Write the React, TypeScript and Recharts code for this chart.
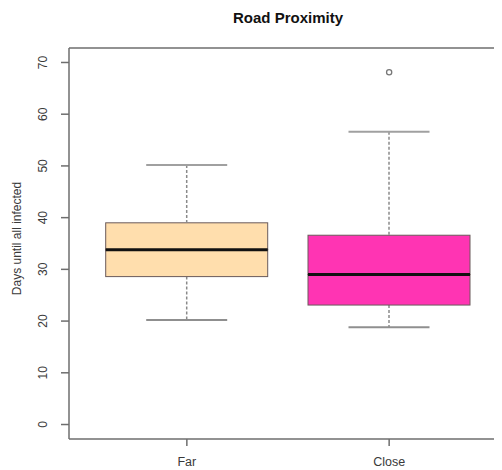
import React from 'react'
import {
    ComposedChart, Bar, Scatter, XAxis, YAxis, ReferenceLine,
} from 'recharts'

// five-number summaries
const categories = ['Far', 'Close']
const whiskerLow = [20.2, 18.8]
const q1 = [28.6, 23.1]
const median = [33.8, 29.0]
const q3 = [39.0, 36.6]
const whiskerHigh = [50.2, 56.6]
const outliers: (number | null)[] = [null, 68.1]
const yTicks = [0, 10, 20, 30, 40, 50, 60, 70]
const yDomain = [-2.8, 72.8]

const FILLS = ['#FFDEAD', '#FF34B3']
const AXIS = '#6e6e6e'
const FONT = '"Liberation Sans", Arial, sans-serif'

const rows = categories.map((name, i) => ({
    name,
    base: whiskerLow[i],
    lowWhisker: q1[i] - whiskerLow[i],
    lowBox: median[i] - q1[i],
    highBox: q3[i] - median[i],
    highWhisker: whiskerHigh[i] - q3[i],
    outlier: outliers[i],
}))

const LowWhisker = (p: any) => {
    const cx = p.x + p.width / 2
    const bottom = p.y + p.height
    return (
        <g>
            <line x1={cx} x2={cx} y1={p.y} y2={bottom} stroke="#8a8a8a" strokeWidth={1.5} strokeDasharray="3 2" />
            <line x1={cx - p.width / 4} x2={cx + p.width / 4} y1={bottom} y2={bottom} stroke="#8f8f8f" strokeWidth={2} />
        </g>
    )
}

const HighWhisker = (p: any) => {
    const cx = p.x + p.width / 2
    return (
        <g>
            <line x1={cx} x2={cx} y1={p.y} y2={p.y + p.height} stroke="#8a8a8a" strokeWidth={1.5} strokeDasharray="3 2" />
            <line x1={cx - p.width / 4} x2={cx + p.width / 4} y1={p.y} y2={p.y} stroke="#a0a0a0" strokeWidth={2} />
        </g>
    )
}

const LowBox = (p: any) => (
    <rect x={p.x} y={p.y} width={p.width} height={p.height}
        fill={FILLS[p.index]} stroke="#6a5a5a" strokeWidth={1} />
)

const HighBox = (p: any) => (
    <g>
        <rect x={p.x} y={p.y} width={p.width} height={p.height}
            fill={FILLS[p.index]} stroke="#6a5a5a" strokeWidth={1} />
        <line x1={p.x} x2={p.x + p.width} y1={p.y + p.height} y2={p.y + p.height}
            stroke="#111" strokeWidth={3} />
    </g>
)

const OutlierDot = (p: any) => {
    if (p.payload == null || p.payload.outlier == null) return <g />
    return <circle cx={p.cx} cy={p.cy} r={2.6} fill="none" stroke="#777" strokeWidth={1.3} />
}

const YTick = (p: any) => (
    <text x={p.x - 16} y={p.y} dy="0.35em" textAnchor="middle"
        transform={`rotate(-90, ${p.x - 16}, ${p.y})`}
        fontSize={12} fill="#3a3a3a" fontFamily={FONT}>
        {p.payload.value}
    </text>
)

export default function App() {
    return (
        <div style={{ position: 'relative', width: 494, height: 462, overflow: 'hidden', background: '#fff' }}>
            <div style={{
                position: 'absolute', left: 61, width: 438, top: 2, textAlign: 'center',
                fontFamily: FONT, fontWeight: 'bold', fontSize: 15, lineHeight: '16px', color: '#111',
            }}>
                Road Proximity
            </div>
            <ComposedChart width={500} height={462} data={rows}
                margin={{ top: 40, right: 1, bottom: 0, left: 0 }}>
                <XAxis
                    dataKey="name"
                    height={31}
                    padding={{ left: 16.7, right: 16.7 }}
                    tickSize={7}
                    tickMargin={11}
                    tick={{ fontSize: 12.5, fill: '#3a3a3a', fontFamily: FONT }}
                    axisLine={{ stroke: AXIS, strokeWidth: 1.5 }}
                    tickLine={{ stroke: AXIS, strokeWidth: 1.5 }}
                />
                <YAxis
                    type="number"
                    width={61}
                    domain={yDomain}
                    allowDataOverflow
                    ticks={yTicks}
                    interval={0}
                    tickSize={8}
                    tick={<YTick />}
                    axisLine={{ stroke: AXIS, strokeWidth: 1.5 }}
                    tickLine={{ stroke: AXIS, strokeWidth: 1.5 }}
                    label={{
                        content: (lp: any) => {
                            const vb = lp.viewBox
                            const cy = vb.y + vb.height / 2 - 5
                            return (
                                <text x={9} y={cy} dy="0.35em" textAnchor="middle"
                                    transform={`rotate(-90, 9, ${cy})`}
                                    fontSize={12} fill="#3a3a3a" fontFamily={FONT}>
                                    Days until all infected
                                </text>
                            )
                        },
                    }}
                />
                <ReferenceLine y={yDomain[1]} stroke={AXIS} strokeWidth={1.5} />
                <Bar dataKey="base" stackId="box" barSize={162} shape={() => <g />} isAnimationActive={false} />
                <Bar dataKey="lowWhisker" stackId="box" barSize={162} shape={LowWhisker} isAnimationActive={false} />
                <Bar dataKey="lowBox" stackId="box" barSize={162} shape={LowBox} isAnimationActive={false} />
                <Bar dataKey="highBox" stackId="box" barSize={162} shape={HighBox} isAnimationActive={false} />
                <Bar dataKey="highWhisker" stackId="box" barSize={162} shape={HighWhisker} isAnimationActive={false} />
                <Scatter dataKey="outlier" shape={OutlierDot} isAnimationActive={false} />
            </ComposedChart>
        </div>
    )
}
